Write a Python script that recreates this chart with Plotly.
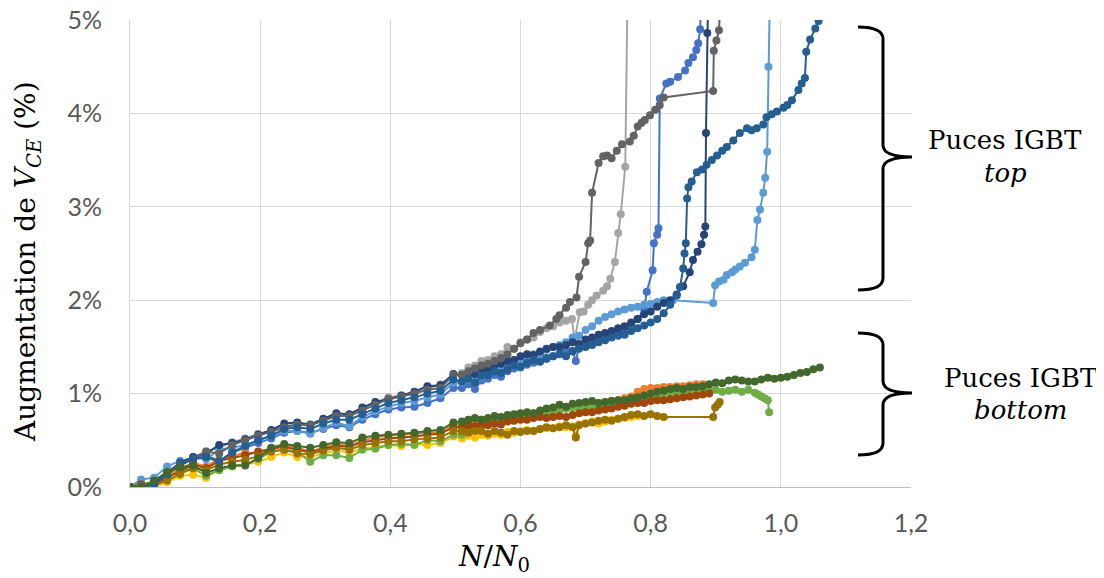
import plotly.graph_objects as go

# ---------------- data (values in %) ----------------
X_EARLY = [0, 0.017, 0.037, 0.057, 0.077, 0.097, 0.117, 0.137, 0.157, 0.177, 0.197, 0.217, 0.237,
           0.257, 0.277, 0.297, 0.317, 0.337, 0.357, 0.377, 0.397, 0.417, 0.437, 0.457, 0.477, 0.497]

# series 1 - blue
s1_y_early = [0, 0.03, 0.04, 0.15, 0.23, 0.3, 0.34, 0.28, 0.37, 0.42, 0.47, 0.52, 0.58, 0.6, 0.58, 0.62,
              0.66, 0.64, 0.72, 0.78, 0.83, 0.85, 0.86, 0.9, 0.95, 1.06]
s1_x_late = [0.51, 0.52, 0.53, 0.54, 0.55, 0.56, 0.57, 0.58, 0.59, 0.60, 0.61, 0.62, 0.63, 0.64, 0.65, 0.66,
             0.67, 0.68, 0.685, 0.69, 0.70, 0.71, 0.72, 0.73, 0.74, 0.75, 0.76, 0.77, 0.78, 0.79, 0.794,
             0.803, 0.805, 0.81, 0.812, 0.814, 0.824, 0.83, 0.842, 0.853, 0.858, 0.865, 0.87, 0.873, 0.876, 0.879]
s1_y_late = [1.06, 1.1, 1.05, 1.14, 1.16, 1.2, 1.18, 1.24, 1.27, 1.28, 1.31, 1.33, 1.35, 1.37, 1.4, 1.43,
             1.45, 1.46, 1.35, 1.5, 1.53, 1.56, 1.58, 1.6, 1.63, 1.66, 1.69, 1.72, 1.8, 1.9, 2.09,
             2.32, 2.61, 2.7, 2.77, 4.16, 4.32, 4.34, 4.39, 4.46, 4.54, 4.6, 4.68, 4.75, 4.9, 5.6]

# series 2 - orange
s2_y_early = [0, 0.04, 0.04, 0.12, 0.2, 0.26, 0.22, 0.3, 0.33, 0.37, 0.36, 0.4, 0.45, 0.42, 0.38, 0.42,
              0.46, 0.44, 0.5, 0.53, 0.55, 0.56, 0.57, 0.58, 0.58, 0.67]
s2_x_late = [0.51, 0.52, 0.53, 0.54, 0.55, 0.56, 0.57, 0.58, 0.59, 0.60, 0.61, 0.62, 0.63, 0.64, 0.65, 0.66,
             0.67, 0.68, 0.69, 0.70, 0.71, 0.72, 0.73, 0.74, 0.75, 0.76, 0.77, 0.78, 0.79, 0.80, 0.81,
             0.82, 0.83, 0.84, 0.85, 0.86, 0.87, 0.88]
s2_y_late = [0.68, 0.7, 0.69, 0.72, 0.7, 0.73, 0.72, 0.75, 0.76, 0.77, 0.78, 0.79, 0.78, 0.8, 0.83, 0.85,
             0.84, 0.87, 0.86, 0.88, 0.9, 0.9, 0.91, 0.92, 0.93, 0.95, 0.97, 1.02, 1.05, 1.06, 1.06,
             1.07, 1.07, 1.08, 1.08, 1.09, 1.1, 1.1]

# series 3 - grey
s3_y_early = [0, 0.02, 0.03, 0.16, 0.25, 0.32, 0.38, 0.42, 0.48, 0.52, 0.57, 0.6, 0.65, 0.67, 0.66, 0.72,
              0.77, 0.76, 0.83, 0.9, 0.96, 0.98, 1.01, 1.05, 1.1, 1.2]
s3_x_late = [0.51, 0.52, 0.53, 0.54, 0.55, 0.56, 0.57, 0.58, 0.59, 0.60, 0.61, 0.62, 0.63, 0.64, 0.65, 0.66,
             0.67, 0.679, 0.683, 0.691, 0.697, 0.704, 0.71, 0.717, 0.727, 0.733, 0.738, 0.745, 0.75, 0.754,
             0.761, 0.765]
s3_y_late = [1.22, 1.28, 1.3, 1.35, 1.36, 1.4, 1.42, 1.5, 1.48, 1.55, 1.58, 1.6, 1.66, 1.7, 1.72, 1.76,
             1.78, 1.8, 1.57, 1.87, 1.88, 1.95, 2.0, 2.05, 2.1, 2.15, 2.23, 2.41, 2.72, 2.92,
             3.43, 5.6]

# series 4 - gold
s4_y_early = [0, 0.0, 0.0, 0.05, 0.12, 0.13, 0.1, 0.19, 0.23, 0.24, 0.27, 0.32, 0.37, 0.32, 0.32, 0.36,
              0.39, 0.37, 0.41, 0.43, 0.45, 0.44, 0.46, 0.45, 0.47, 0.54]
s4_x_late = [0.51, 0.52, 0.53, 0.54, 0.55, 0.56, 0.57, 0.58, 0.59, 0.60, 0.61, 0.62, 0.63, 0.64, 0.65, 0.66,
             0.67, 0.68, 0.685, 0.69, 0.70, 0.71, 0.72, 0.73, 0.74, 0.75, 0.76, 0.77, 0.78]
s4_y_late = [0.52, 0.55, 0.53, 0.56, 0.55, 0.57, 0.56, 0.59, 0.58, 0.6, 0.61, 0.6, 0.62, 0.63, 0.63, 0.65,
             0.64, 0.65, 0.55, 0.67, 0.68, 0.7, 0.68, 0.7, 0.72, 0.73, 0.74, 0.75, 0.76]

# series 5 - light blue
s5_y_early = [0, 0.08, 0.1, 0.22, 0.28, 0.31, 0.3, 0.4, 0.42, 0.45, 0.5, 0.55, 0.6, 0.6, 0.57, 0.63,
              0.69, 0.65, 0.75, 0.81, 0.86, 0.9, 0.92, 0.96, 0.99, 1.12]
s5_x_late = [0.51, 0.52, 0.53, 0.54, 0.55, 0.56, 0.57, 0.58, 0.59, 0.60, 0.61, 0.62, 0.63, 0.64, 0.65, 0.66,
             0.67, 0.68, 0.69, 0.70, 0.71, 0.72, 0.73, 0.74, 0.75, 0.76, 0.77, 0.78, 0.79, 0.80, 0.81,
             0.82, 0.834, 0.896, 0.899, 0.905, 0.912, 0.917, 0.925, 0.93, 0.937, 0.945, 0.955, 0.96,
             0.964, 0.968, 0.973, 0.976, 0.979, 0.981, 0.984]
s5_y_late = [1.12, 1.15, 1.2, 1.18, 1.24, 1.26, 1.28, 1.32, 1.35, 1.36, 1.4, 1.42, 1.4, 1.47, 1.5, 1.52,
             1.55, 1.6, 1.62, 1.68, 1.72, 1.78, 1.82, 1.85, 1.88, 1.9, 1.92, 1.93, 1.95, 1.96, 1.98,
             2.0, 2.0, 1.97, 2.16, 2.2, 2.22, 2.27, 2.3, 2.33, 2.36, 2.4, 2.46, 2.54,
             2.86, 2.97, 3.15, 3.31, 3.59, 4.5, 5.6]

# series 6 - green
s6_y_early = [0, 0.0, 0.0, 0.1, 0.17, 0.2, 0.12, 0.18, 0.22, 0.24, 0.3, 0.38, 0.4, 0.38, 0.27, 0.34,
              0.34, 0.31, 0.4, 0.41, 0.45, 0.46, 0.45, 0.5, 0.49, 0.56]
s6_x_late = [0.51, 0.52, 0.53, 0.54, 0.55, 0.56, 0.57, 0.58, 0.59, 0.60, 0.61, 0.62, 0.63, 0.64, 0.65, 0.66,
             0.67, 0.68, 0.69, 0.70, 0.71, 0.72, 0.73, 0.74, 0.75, 0.76, 0.77, 0.78, 0.79, 0.80, 0.81,
             0.82, 0.83, 0.84, 0.85, 0.86, 0.87, 0.88, 0.89, 0.90, 0.91, 0.92, 0.93, 0.94, 0.95, 0.96,
             0.965, 0.97, 0.975, 0.98, 0.982]
s6_y_late = [0.56, 0.6, 0.62, 0.66, 0.68, 0.72, 0.7, 0.74, 0.75, 0.76, 0.77, 0.78, 0.8, 0.81, 0.82, 0.83,
             0.84, 0.85, 0.86, 0.85, 0.87, 0.86, 0.88, 0.89, 0.9, 0.9, 0.91, 0.93, 0.95, 0.97, 0.98,
             1.0, 1.01, 1.02, 1.03, 1.02, 1.04, 1.06, 1.04, 1.04, 1.02, 1.03, 1.04, 1.02, 1.04, 1.01,
             0.99, 0.97, 0.95, 0.93, 0.8]

# series 7 - navy
s7_y_early = [0, 0.0, 0.04, 0.15, 0.26, 0.32, 0.36, 0.45, 0.47, 0.51, 0.56, 0.61, 0.68, 0.69, 0.67, 0.73,
              0.79, 0.78, 0.85, 0.91, 0.94, 0.98, 1.02, 1.08, 1.09, 1.21]
s7_x_late = [0.51, 0.52, 0.53, 0.54, 0.55, 0.56, 0.57, 0.58, 0.59, 0.60, 0.61, 0.62, 0.63, 0.64, 0.65, 0.66,
             0.67, 0.68, 0.69, 0.70, 0.71, 0.72, 0.73, 0.74, 0.75, 0.76, 0.77, 0.78, 0.79, 0.80, 0.81,
             0.82, 0.83, 0.84, 0.85, 0.86, 0.865, 0.872, 0.878, 0.882, 0.884, 0.885, 0.887, 0.889]
s7_y_late = [1.2, 1.22, 1.21, 1.27, 1.25, 1.3, 1.32, 1.35, 1.36, 1.4, 1.42, 1.41, 1.45, 1.48, 1.5, 1.5,
             1.52, 1.55, 1.53, 1.58, 1.6, 1.63, 1.65, 1.67, 1.7, 1.72, 1.76, 1.8, 1.85, 1.88, 1.93,
             1.97, 2.0, 2.06, 2.15, 2.3, 2.43, 2.52, 2.6, 2.7, 2.79, 3.79, 4.86, 5.6]

# series 8 - brown
s8_y_early = [0, 0.03, 0.02, 0.1, 0.17, 0.24, 0.2, 0.28, 0.31, 0.34, 0.38, 0.41, 0.43, 0.4, 0.37, 0.41,
              0.44, 0.43, 0.48, 0.5, 0.52, 0.53, 0.54, 0.56, 0.57, 0.64]
s8_x_late = [0.51, 0.52, 0.53, 0.54, 0.55, 0.56, 0.57, 0.58, 0.59, 0.60, 0.61, 0.62, 0.63, 0.64, 0.65, 0.66,
             0.67, 0.68, 0.69, 0.70, 0.71, 0.72, 0.73, 0.74, 0.75, 0.76, 0.77, 0.78, 0.79, 0.80, 0.81,
             0.82, 0.83, 0.84, 0.85, 0.86, 0.87, 0.88, 0.89]
s8_y_late = [0.64, 0.66, 0.65, 0.67, 0.66, 0.68, 0.67, 0.7, 0.71, 0.72, 0.72, 0.74, 0.75, 0.74, 0.75, 0.76,
             0.75, 0.77, 0.79, 0.8, 0.8, 0.82, 0.83, 0.84, 0.86, 0.87, 0.89, 0.9, 0.9, 0.92, 0.93,
             0.93, 0.94, 0.95, 0.96, 0.97, 0.98, 0.99, 1.0]

# series 9 - dark grey
s9_y_early = [0, 0.02, 0.03, 0.14, 0.25, 0.3, 0.38, 0.36, 0.45, 0.5, 0.55, 0.59, 0.64, 0.67, 0.66, 0.71,
              0.76, 0.76, 0.82, 0.88, 0.94, 0.97, 1.0, 1.04, 1.06, 1.2]
s9_x_late = [0.51, 0.52, 0.53, 0.54, 0.55, 0.56, 0.57, 0.58, 0.59, 0.60, 0.61, 0.62, 0.63, 0.645, 0.655,
             0.66, 0.67, 0.676, 0.686, 0.69, 0.70, 0.704, 0.707, 0.71, 0.72, 0.727, 0.733, 0.74, 0.748,
             0.756, 0.768, 0.774, 0.78, 0.786, 0.791, 0.799, 0.807, 0.814, 0.82, 0.896, 0.897, 0.901,
             0.905, 0.91]
s9_y_late = [1.2, 1.24, 1.27, 1.3, 1.32, 1.35, 1.38, 1.42, 1.48, 1.54, 1.58, 1.65, 1.68, 1.73, 1.8,
             1.84, 1.92, 1.98, 2.03, 2.25, 2.41, 2.61, 2.64, 3.15, 3.47, 3.54, 3.55, 3.52, 3.6,
             3.67, 3.7, 3.76, 3.86, 3.9, 3.93, 3.98, 4.04, 4.09, 4.17, 4.24, 4.67, 4.78,
             4.89, 5.6]

# series 10 - olive
s10_y_early = [0, 0.0, 0.02, 0.07, 0.14, 0.2, 0.18, 0.24, 0.27, 0.29, 0.33, 0.38, 0.4, 0.36, 0.35, 0.39,
               0.42, 0.4, 0.45, 0.47, 0.49, 0.49, 0.51, 0.52, 0.53, 0.6]
s10_x_late = [0.51, 0.52, 0.53, 0.54, 0.55, 0.56, 0.57, 0.58, 0.59, 0.60, 0.61, 0.62, 0.63, 0.64, 0.65, 0.66,
              0.67, 0.68, 0.685, 0.69, 0.70, 0.71, 0.72, 0.73, 0.74, 0.75, 0.76, 0.77, 0.78, 0.79, 0.80,
              0.81, 0.82, 0.896, 0.899, 0.903, 0.906]
s10_y_late = [0.6, 0.58, 0.6, 0.6, 0.57, 0.6, 0.58, 0.56, 0.6, 0.59, 0.6, 0.6, 0.62, 0.64, 0.63, 0.64,
              0.66, 0.64, 0.53, 0.66, 0.68, 0.69, 0.71, 0.72, 0.71, 0.73, 0.75, 0.77, 0.78, 0.76, 0.78,
              0.76, 0.75, 0.75, 0.85, 0.88, 0.91]

# series 11 - steel blue
s11_y_early = [0, 0.0, 0.03, 0.14, 0.24, 0.3, 0.32, 0.27, 0.37, 0.44, 0.5, 0.55, 0.62, 0.64, 0.62, 0.68,
               0.72, 0.72, 0.78, 0.84, 0.9, 0.93, 0.96, 1.0, 1.03, 1.15]
s11_x_late = [0.51, 0.52, 0.53, 0.54, 0.55, 0.56, 0.57, 0.58, 0.59, 0.60, 0.61, 0.62, 0.63, 0.64, 0.65,
              0.66, 0.67, 0.68, 0.69, 0.70, 0.71, 0.72, 0.73, 0.74, 0.75, 0.76, 0.77, 0.78, 0.79, 0.80,
              0.81, 0.82, 0.83, 0.84, 0.845, 0.85, 0.852, 0.854, 0.856, 0.858, 0.863, 0.871, 0.879,
              0.886, 0.894, 0.902, 0.91, 0.917, 0.927, 0.937, 0.948, 0.955, 0.963, 0.973, 0.978, 0.986,
              0.994, 1.004, 1.01, 1.017, 1.027, 1.032, 1.037, 1.039, 1.045, 1.053, 1.058]
s11_y_late = [1.13, 1.16, 1.12, 1.19, 1.2, 1.24, 1.22, 1.26, 1.3, 1.29, 1.33, 1.36, 1.34, 1.38, 1.4,
              1.42, 1.4, 1.45, 1.48, 1.5, 1.52, 1.55, 1.57, 1.6, 1.62, 1.63, 1.67, 1.7, 1.73, 1.76,
              1.8, 1.86, 1.95, 2.05, 2.14, 2.34, 2.5, 2.61, 3.09, 3.21, 3.27, 3.37, 3.4,
              3.45, 3.5, 3.55, 3.6, 3.64, 3.71, 3.79, 3.84, 3.82, 3.84, 3.88, 3.96, 3.99,
              4.02, 4.06, 4.09, 4.14, 4.25, 4.32, 4.38, 4.66, 4.79, 4.91, 4.99]

# series 12 - dark green
s12_y_early = [0, 0.0, 0.07, 0.16, 0.21, 0.23, 0.15, 0.2, 0.23, 0.23, 0.31, 0.42, 0.46, 0.44, 0.42, 0.45,
               0.48, 0.47, 0.53, 0.55, 0.56, 0.57, 0.58, 0.6, 0.61, 0.69]
s12_x_late = [0.51, 0.52, 0.53, 0.54, 0.55, 0.56, 0.57, 0.58, 0.59, 0.60, 0.61, 0.62, 0.63, 0.64, 0.65, 0.66,
              0.67, 0.68, 0.69, 0.70, 0.71, 0.72, 0.73, 0.74, 0.75, 0.76, 0.77, 0.78, 0.79, 0.80, 0.81,
              0.82, 0.83, 0.84, 0.85, 0.86, 0.87, 0.88, 0.89, 0.90, 0.91, 0.92, 0.93, 0.94, 0.95, 0.96,
              0.97, 0.98, 0.99, 1.0, 1.01, 1.02, 1.03, 1.04, 1.05, 1.06]
s12_y_late = [0.7, 0.72, 0.74, 0.72, 0.74, 0.76, 0.75, 0.77, 0.78, 0.79, 0.8, 0.79, 0.82, 0.84, 0.85, 0.88,
              0.86, 0.89, 0.9, 0.91, 0.92, 0.9, 0.91, 0.92, 0.93, 0.93, 0.95, 0.96, 0.98, 1.0, 1.02,
              1.03, 1.05, 1.06, 1.05, 1.07, 1.07, 1.08, 1.1, 1.12, 1.11, 1.14, 1.15, 1.14, 1.13, 1.13,
              1.15, 1.17, 1.16, 1.17, 1.18, 1.2, 1.22, 1.23, 1.26, 1.28]

SERIES = [
    ("#4472C4", s1_y_early, s1_x_late, s1_y_late),
    ("#ED7D31", s2_y_early, s2_x_late, s2_y_late),
    ("#A5A5A5", s3_y_early, s3_x_late, s3_y_late),
    ("#FFC000", s4_y_early, s4_x_late, s4_y_late),
    ("#5B9BD5", s5_y_early, s5_x_late, s5_y_late),
    ("#70AD47", s6_y_early, s6_x_late, s6_y_late),
    ("#264478", s7_y_early, s7_x_late, s7_y_late),
    ("#9E480E", s8_y_early, s8_x_late, s8_y_late),
    ("#636363", s9_y_early, s9_x_late, s9_y_late),
    ("#997300", s10_y_early, s10_x_late, s10_y_late),
    ("#255E91", s11_y_early, s11_x_late, s11_y_late),
    ("#43682B", s12_y_early, s12_x_late, s12_y_late),
]

X_TICKS = [0, 0.2, 0.4, 0.6, 0.8, 1.0, 1.2]
Y_TICKS = [0, 1, 2, 3, 4, 5]
Y_TICK_TEXT = ["0%", "1%", "2%", "3%", "4%", "5%"]

# ---------------- figure ----------------
# the page body has an 8px margin, so shift everything up/left by 8px
OFF = 8
W, H = 1104, 578
PL, PR, PT, PB = 130, 911, 20, 487          # plot box in reference pixels
L, T = PL - OFF, PT - OFF
R, B = W - (PR - OFF), H - (PB - OFF)
PW, PH = PR - PL, PB - PT

fig = go.Figure()
for color, ye, xl, yl in SERIES:
    fig.add_trace(go.Scatter(
        x=X_EARLY + xl, y=ye + yl, mode="lines+markers",
        line=dict(color=color, width=2),
        marker=dict(color=color, size=8),
        showlegend=False, hoverinfo="skip"))

def px2paper(px, py):
    # reference pixel -> paper coordinates
    return (px - PL) / PW, (PB - py) / PH

def brace(x0, x1, xt, ytop, ymid, ybot):
    r = 12
    pts = [
        ("M", [(x0, ytop)]),
        ("Q", [(x1, ytop), (x1, ytop + r)]),
        ("L", [(x1, ymid - r)]),
        ("Q", [(x1, ymid), (xt, ymid)]),
        ("Q", [(x1, ymid), (x1, ymid + r)]),
        ("L", [(x1, ybot - r)]),
        ("Q", [(x1, ybot), (x0, ybot)]),
    ]
    s = ""
    for cmd, ps in pts:
        s += cmd + " " + " ".join("%.5f,%.5f" % px2paper(a, b) for a, b in ps) + " "
    return s.strip()

for args in [(858, 883, 912, 27, 157, 290), (858, 883, 912, 333, 393, 455)]:
    fig.add_shape(type="path", path=brace(*args), xref="paper", yref="paper",
                  line=dict(color="black", width=3))

serif = "DejaVu Serif"
for (tx, ty, txt) in [(1005, 140, "Puces IGBT"), (1005, 173, "<i>top</i>"),
                      (1021, 378, "Puces IGBT"), (1021, 410, "<i>bottom</i>")]:
    ax_, ay_ = px2paper(tx, ty)
    fig.add_annotation(x=ax_, y=ay_, xref="paper", yref="paper", text=txt, showarrow=False,
                       font=dict(family=serif, size=26, color="black"), xanchor="center", yanchor="middle")

# axis titles placed where the reference has them
xt_x, xt_y = px2paper(494, 558)
fig.add_annotation(x=xt_x, y=xt_y, xref="paper", yref="paper",
                   text="<i>N</i>/<i>N</i><sub>0</sub>", showarrow=False,
                   font=dict(family=serif, size=28, color="black"), xanchor="center", yanchor="middle")
yt_x, yt_y = px2paper(27, 262)
fig.add_annotation(x=yt_x, y=yt_y, xref="paper", yref="paper", textangle=-90,
                   text="Augmentation de <i>V</i><sub><i>CE</i></sub> (%)", showarrow=False,
                   font=dict(family=serif, size=28, color="black"), xanchor="center", yanchor="middle")

tickfont = dict(family="Lato", size=25, color="#595959")
fig.update_layout(
    width=W, height=H, margin=dict(l=L, r=R, t=T, b=B, autoexpand=False),
    paper_bgcolor="white", plot_bgcolor="white",
    separators=",.",
    xaxis=dict(range=[0, 1.2], tickvals=X_TICKS, tickformat=".1f", tickfont=tickfont,
               showgrid=True, gridcolor="#D9D9D9", gridwidth=1, zeroline=False, automargin=False,
               showline=True, linecolor="#BFBFBF", linewidth=1, ticks="", ticklabelstandoff=14,
               ticklabeloverflow="allow"),
    yaxis=dict(range=[0, 5], tickvals=Y_TICKS, ticktext=Y_TICK_TEXT, tickfont=tickfont,
               showgrid=True, gridcolor="#D9D9D9", gridwidth=1, zeroline=False, automargin=False,
               showline=True, linecolor="#D9D9D9", linewidth=1, ticks="", ticklabelstandoff=22,
               ticklabeloverflow="allow"),
)

fig.write_html("out.html")
